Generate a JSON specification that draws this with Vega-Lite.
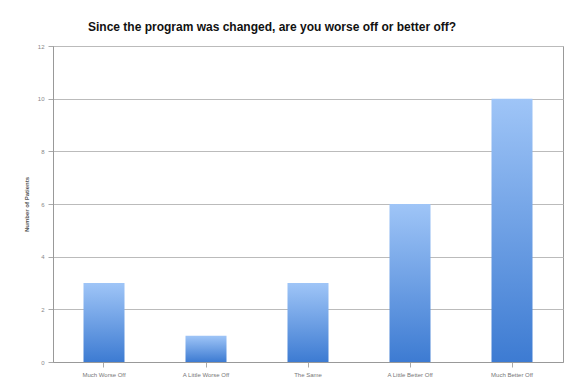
{
  "$schema": "https://vega.github.io/schema/vega-lite/v6.json",
  "autosize": "none",
  "width": 510,
  "height": 316,
  "padding": {"left": 53, "top": 46, "right": 22, "bottom": 19},
  "background": "white",
  "title": {
    "text": "Since the program was changed, are you worse off or better off?",
    "font": "Liberation Sans",
    "fontSize": 12,
    "fontWeight": "bold",
    "color": "#111111",
    "anchor": "middle",
    "dx": -36,
    "offset": 9
  },
  "data": {
    "values": [
      {"response": "Much Worse Off", "patients": 3},
      {"response": "A Little Worse Off", "patients": 1},
      {"response": "The Same", "patients": 3},
      {"response": "A Little Better Off", "patients": 6},
      {"response": "Much Better Off", "patients": 10}
    ]
  },
  "mark": {
    "type": "bar",
    "size": 41,
    "color": {
      "gradient": "linear",
      "x1": 0, "y1": 0, "x2": 0, "y2": 1,
      "stops": [
        {"offset": 0, "color": "#9fc5f7"},
        {"offset": 1, "color": "#3d7bd2"}
      ]
    }
  },
  "encoding": {
    "x": {
      "field": "response",
      "type": "nominal",
      "sort": null,
      "axis": {
        "title": null,
        "labelAngle": 0,
        "labelFontSize": 6,
        "labelColor": "#777777",
        "labelFont": "Liberation Sans",
        "ticks": true,
        "tickColor": "#aaaaaa",
        "domainColor": "#999999",
        "labelPadding": 4
      }
    },
    "y": {
      "field": "patients",
      "type": "quantitative",
      "scale": {"domain": [0, 12]},
      "axis": {
        "title": "Number of Patients",
        "titleFontSize": 6,
        "titleFont": "Liberation Sans",
        "titleFontWeight": "bold",
        "titleColor": "#555555",
        "titlePadding": 8,
        "values": [0, 2, 4, 6, 8, 10, 12],
        "labelFontSize": 6,
        "labelColor": "#888888",
        "labelFont": "Liberation Sans",
        "tickColor": "#aaaaaa",
        "domainColor": "#999999",
        "gridColor": "#bbbbbb",
        "labelPadding": 4
      }
    }
  },
  "config": {
    "view": {"stroke": "#999999"}
  }
}
